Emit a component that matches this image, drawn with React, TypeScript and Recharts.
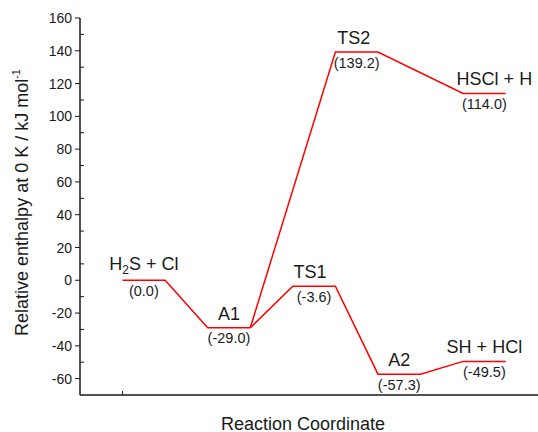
import {
  LineChart,
  Line,
  Scatter,
  XAxis,
  YAxis,
} from "recharts";

// Stationary points along the main channel (kJ/mol, 0 K)
const mainStates = ["H_2S + Cl", "A1", "TS1", "A2", "SH + HCl"];
const mainEnergies = [0.0, -29.0, -3.6, -57.3, -49.5];
const mainSlots = [1, 3, 5, 7, 9];

// Abstraction branch leaving A1 through TS2
const branchStates = ["TS2", "HSCl + H"];
const branchEnergies = [139.2, 114.0];
const branchSlots = [6, 9];
const branchOrigin = 1; // index into mainStates

const majorTicks = [-60, -40, -20, 0, 20, 40, 60, 80, 100, 120, 140, 160];
const minorTicks = [-50, -30, -10, 10, 30, 50, 70, 90, 110, 130, 150];
const xTicks = [1];

const LEVEL_WIDTH = 1;
const X_DOMAIN: [number, number] = [0, 10.76];
const Y_DOMAIN: [number, number] = [-70, 160];
const FONT = "Arial, 'Liberation Sans', sans-serif";
const INK = "#1a1a1a";

// each level is a short horizontal bar; consecutive bars are joined by the line
const levelPoints = (slots: number[], energies: number[]) =>
  slots.flatMap((s, i) => [
    { x: s, y: energies[i] },
    { x: s + LEVEL_WIDTH, y: energies[i] },
  ]);

const mainPath = levelPoints(mainSlots, mainEnergies);
const branchPath = [
  { x: mainSlots[branchOrigin] + LEVEL_WIDTH, y: mainEnergies[branchOrigin] },
  ...levelPoints(branchSlots, branchEnergies),
];

const levelLabels = [
  ...mainStates.map((name, i) => ({ x: mainSlots[i] + LEVEL_WIDTH / 2, y: mainEnergies[i], name })),
  ...branchStates.map((name, i) => ({ x: branchSlots[i] + LEVEL_WIDTH / 2, y: branchEnergies[i], name })),
];

// small hand nudges so names don't crowd the rising lines
const nudge: Record<string, { dx: number; dy: number }> = {
  "H_2S + Cl": { dx: 0, dy: -2.5 },
  TS1: { dx: -4, dy: 0 },
  TS2: { dx: -3, dy: 0 },
  "HSCl + H": { dx: 10, dy: 0 },
};

function StateName({ text }: { text: string }) {
  // "_2" marks a subscript digit
  const parts = text.split(/_(\d)/);
  return (
    <>
      {parts.map((p, i) =>
        i % 2 === 1 ? (
          <tspan key={i} fontSize={12} dy={4}>
            {p}
          </tspan>
        ) : (
          <tspan key={i} dy={i > 0 ? -4 : 0}>
            {p}
          </tspan>
        )
      )}
    </>
  );
}

function LevelLabel(props: any) {
  const { cx, cy, payload } = props;
  if (cx == null || cy == null) return null;
  const n = nudge[payload.name] ?? { dx: 0, dy: 0 };
  return (
    <g fontFamily={FONT} textAnchor="middle" fill={INK}>
      <text x={cx + n.dx} y={cy - 8 + n.dy} fontSize={18}>
        <StateName text={payload.name} />
      </text>
      <text x={cx} y={cy + 15.5} fontSize={14.5}>
        ({payload.y.toFixed(1)})
      </text>
    </g>
  );
}

// y ticks: majors point outward with a label, minors point into the frame
function YTick(props: any) {
  const { x, y, payload } = props;
  const v = payload.value;
  if (minorTicks.includes(v)) {
    return <line x1={x} x2={x + 4} y1={y} y2={y} stroke={INK} strokeWidth={1} />;
  }
  return (
    <g>
      <line x1={x - 5} x2={x} y1={y} y2={y} stroke={INK} strokeWidth={1} />
      <text
        x={x - 8}
        y={y}
        dy="0.36em"
        textAnchor="end"
        fontFamily={FONT}
        fontSize={14}
        fill={INK}
      >
        {v}
      </text>
    </g>
  );
}

const BottomTick = (props: any) => (
  <line x1={props.x} x2={props.x} y1={props.y} y2={props.y - 4} stroke={INK} strokeWidth={1} />
);
const TopTick = (props: any) => (
  <line x1={props.x} x2={props.x} y1={props.y} y2={props.y + 4} stroke={INK} strokeWidth={1} />
);

function YTitle(props: any) {
  const { x, y, height } = props.viewBox;
  const cx = x + 28;
  const cy = y + height / 2 - 4;
  return (
    <text
      x={cx}
      y={cy}
      transform={`rotate(-90, ${cx}, ${cy})`}
      textAnchor="middle"
      fontFamily={FONT}
      fontSize={18}
      fill={INK}
    >
      Relative enthalpy at 0 K / kJ mol
      <tspan fontSize={11} dy={-8}>
        -1
      </tspan>
    </text>
  );
}

function XTitle(props: any) {
  const { x, y, width } = props.viewBox;
  return (
    <text
      x={x + width / 2 - 6}
      y={y + 35}
      textAnchor="middle"
      fontFamily={FONT}
      fontSize={18}
      fill={INK}
    >
      Reaction Coordinate
    </text>
  );
}

export default function App() {
  const axisLine = { stroke: INK, strokeWidth: 1.5 };
  return (
    <div style={{ position: "absolute", left: 0, top: 0, width: 538, height: 432, background: "#fff" }}>
      <LineChart width={538} height={432} margin={{ top: 18, right: 0, bottom: 0, left: 0 }}>
        <XAxis
          type="number"
          dataKey="x"
          domain={X_DOMAIN}
          allowDataOverflow
          ticks={xTicks}
          height={37}
          tickSize={0}
          tickMargin={0}
          tick={BottomTick}
          tickLine={false}
          axisLine={axisLine}
          label={XTitle}
        />
        <XAxis
          xAxisId="top"
          orientation="top"
          type="number"
          domain={X_DOMAIN}
          allowDataOverflow
          ticks={xTicks}
          height={0}
          tickSize={0}
          tickMargin={0}
          tick={TopTick}
          tickLine={false}
          axisLine={axisLine}
        />
        <YAxis
          type="number"
          domain={Y_DOMAIN}
          allowDataOverflow
          ticks={[...majorTicks, ...minorTicks].sort((a, b) => a - b)}
          interval={0}
          width={80}
          tickSize={0}
          tickMargin={0}
          tick={YTick}
          tickLine={false}
          axisLine={axisLine}
          label={YTitle}
        />
        <Line
          data={mainPath}
          dataKey="y"
          type="linear"
          stroke="#ff0000"
          strokeWidth={1.5}
          dot={false}
          isAnimationActive={false}
        />
        <Line
          data={branchPath}
          dataKey="y"
          type="linear"
          stroke="#ff0000"
          strokeWidth={1.5}
          dot={false}
          isAnimationActive={false}
        />
        <Scatter data={levelLabels} dataKey="y" shape={LevelLabel} isAnimationActive={false} />
      </LineChart>
    </div>
  );
}
